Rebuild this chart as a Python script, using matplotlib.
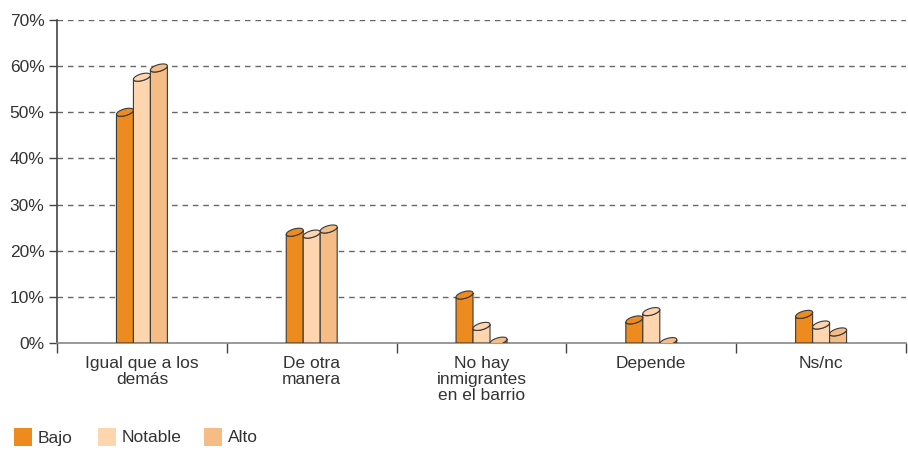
import matplotlib.pyplot as plt
import numpy as np
from matplotlib.patches import Polygon, Rectangle

plt.rcParams["font.family"] = ["Liberation Sans", "DejaVu Sans"]

categories = ["Igual que a los\ndemás", "De otra\nmanera", "No hay\ninmigrantes\nen el barrio",
              "Depende", "Ns/nc"]
series = ["Bajo", "Notable", "Alto"]
bajo = [50.0, 24.0, 10.4, 5.0, 6.2]
notable = [57.6, 23.6, 3.6, 6.8, 3.9]
alto = [59.6, 24.7, 0.4, 0.3, 2.4]
yticks = [0, 10, 20, 30, 40, 50, 60, 70]

colors = ["#EE8B1F", "#FDD5AE", "#F6BC85"]
edge = "#3a3a3a"
text_color = "#333333"


def cylinder(ax, x0, w, v, color):
    """Bar with a slanted elliptical top, drawn in data coords."""
    cx = x0 + w / 2
    a, s = 0.75, 0.45  # half-height of the top ellipse, slant (in %)
    t = np.linspace(0, 2 * np.pi, 60)
    ex = cx + w / 2 * np.cos(t)
    ey = v + a * np.sin(t) + s * np.cos(t)
    # body: bottom corners plus lower arc of ellipse
    tl = np.linspace(np.pi, 2 * np.pi, 30)
    bx = cx + w / 2 * np.cos(tl)
    by = np.maximum(v + a * np.sin(tl) + s * np.cos(tl), 0)
    body = np.column_stack([np.r_[x0, bx, x0 + w], np.r_[0, by, 0]])
    ax.add_patch(Polygon(body, closed=True, facecolor=color, edgecolor=edge, lw=0.8, zorder=3))
    ax.add_patch(Polygon(np.column_stack([ex, ey]), closed=True, facecolor=color,
                         edgecolor=edge, lw=0.8, zorder=4))


fig = plt.figure(figsize=(9.08, 4.5), dpi=100)
ax = fig.add_axes([0.0628, 0.2378, 0.935, 0.7178])

w = 0.1
for i, vals in enumerate([bajo, notable, alto]):
    for j, v in enumerate(vals):
        x0 = j + 0.5 + (i - 1.5) * w
        cylinder(ax, x0, w, v, colors[i])

ax.set_xlim(0, 5)
ax.set_ylim(0, 70)
ax.set_yticks(yticks)
ax.set_yticklabels([f"{y}%" for y in yticks], fontsize=12.5, color=text_color)
for y in yticks[1:]:
    ax.axhline(y, color="#666666", lw=1.0, ls=(0, (4, 3.5)), zorder=1)

ax.set_xticks(range(6))
ax.set_xticklabels([])
ax.tick_params(axis="x", length=7, width=1, color="#444444", direction="out")
ax.tick_params(axis="y", length=6, width=1, color="#444444", direction="out", pad=3)
for j, c in enumerate(categories):
    ax.text(j + 0.5, -2.9, c, ha="center", va="top", fontsize=12.5, color=text_color,
            linespacing=1.08)

for side in ["top", "right"]:
    ax.spines[side].set_visible(False)
ax.spines["left"].set_color("#444444")
ax.spines["left"].set_linewidth(1.2)
ax.spines["bottom"].set_color("#888888")
ax.spines["bottom"].set_linewidth(1.2)

# legend
lx = [14, 98, 204]
for i, name in enumerate(series):
    fig.patches.append(Rectangle((lx[i] / 908, 1 - 446 / 450), 18 / 908, 18 / 450,
                                 transform=fig.transFigure, facecolor=colors[i], edgecolor="none"))
    fig.text((lx[i] + 24) / 908, 1 - 438 / 450, name, fontsize=12.5, color=text_color, va="center")

fig.savefig("out.png", dpi=100)
